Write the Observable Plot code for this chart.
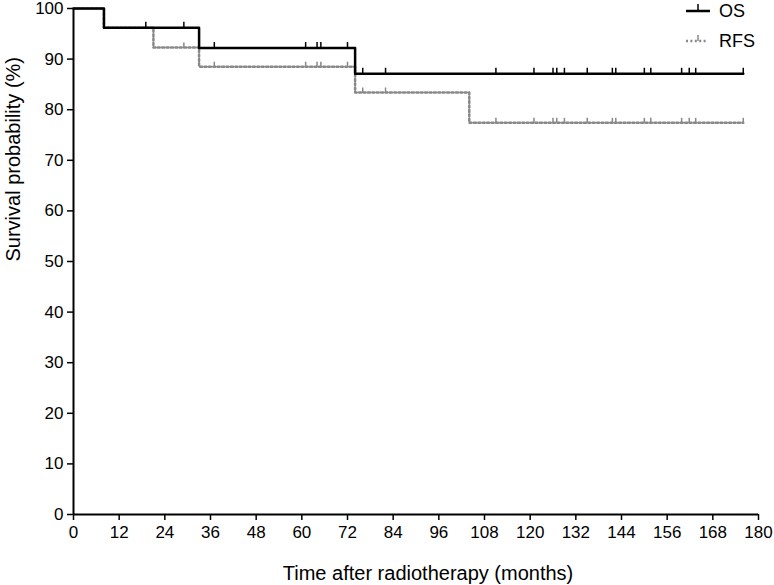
<!DOCTYPE html>
<html>
<head>
<meta charset="utf-8">
<script src="https://cdn.jsdelivr.net/npm/d3@7"></script>
<script src="https://cdn.jsdelivr.net/npm/@observablehq/plot@0.6"></script>
<style>
  html, body { margin: 0; padding: 0; background: #fff; }
  #wrap { position: relative; width: 774px; height: 585px; font-family: "Liberation Sans", Arial, sans-serif; }
  #legend { position: absolute; left: 684px; top: 0px; }
</style>
</head>
<body>
<div id="wrap"></div>
<script>
// Data
const osTime = [0, 8, 33, 74, 176];
const osSurv = [100, 96.2, 92.2, 87.1, 87.1];
const rfsTime = [0, 8, 21, 33, 74, 104, 176];
const rfsSurv = [100, 96.2, 92.3, 88.5, 83.4, 77.4, 77.4];
const censorTimes = [19, 29, 37, 61, 64, 65, 72, 76, 82, 111, 121, 126, 127, 129, 135, 141.6, 142.5, 150, 151.7, 159.8, 161.8, 163.5, 176];
const xTicks = d3.range(0, 181, 12);
const yTicks = d3.range(0, 101, 10);
const xLabel = "Time after radiotherapy (months)";
const yLabel = "Survival probability (%)";

const stepAt = (times, surv, t) => {
  let v = surv[0];
  for (let i = 0; i < times.length; i++) if (times[i] <= t) v = surv[i];
  return v;
};
const osLine = osTime.map((t, i) => ({t, s: osSurv[i]}));
const rfsLine = rfsTime.map((t, i) => ({t, s: rfsSurv[i]}));
const osCens = censorTimes.map(t => ({t, s: stepAt(osTime, osSurv, t)}));
const rfsCens = censorTimes.filter(t => t !== 19).map(t => ({t, s: stepAt(rfsTime, rfsSurv, t)}));

const upTick = (h) => ({ draw(ctx) { ctx.moveTo(0, 0); ctx.lineTo(0, -h); } });

const chart = Plot.plot({
  width: 774,
  height: 585,
  marginLeft: 73,
  marginRight: 16,
  marginTop: 8,
  marginBottom: 71,
  style: { fontFamily: "Liberation Sans, Arial, sans-serif", fontSize: "17px", color: "#000", background: "#fff", overflow: "visible" },
  x: { domain: [0, 180] },
  y: { domain: [0, 100] },
  marks: [
    Plot.axisX({ ticks: xTicks, tickSize: 6, tickPadding: 5, fontSize: 17, strokeWidth: 1.5, label: null }),
    Plot.axisY({ ticks: yTicks, tickSize: 6, tickPadding: 4, fontSize: 17, strokeWidth: 1.5, label: null }),
    Plot.text([xLabel], { frameAnchor: "bottom", dy: 65, dx: 12, fontSize: 20, lineAnchor: "bottom", text: d => d }),
    Plot.text([yLabel], { frameAnchor: "left", dx: -68, rotate: -90, fontSize: 20, lineAnchor: "top", text: d => d }),
    Plot.line(rfsLine, { x: "t", y: "s", curve: "step-after", stroke: "#888", strokeWidth: 2.5, strokeDasharray: "2,2.4" }),
    Plot.dot(rfsCens, { x: "t", y: "s", symbol: upTick(5), r: 3, stroke: "#888", strokeWidth: 1.5, fill: "none" }),
    Plot.line(osLine, { x: "t", y: "s", curve: "step-after", stroke: "#000", strokeWidth: 2.5 }),
    Plot.dot(osCens, { x: "t", y: "s", symbol: upTick(6), r: 3, stroke: "#000", strokeWidth: 1.5, fill: "none" }),
    Plot.ruleY([0], { stroke: "#000", strokeWidth: 2 }),
    Plot.ruleX([0], { stroke: "#000", strokeWidth: 2 })
  ]
});
const wrap = document.getElementById("wrap");
wrap.appendChild(chart);

const legend = document.createElement("div");
legend.id = "legend";
legend.innerHTML = `
<svg width="90" height="55" style="font-family: Liberation Sans, Arial, sans-serif; font-size:18px">
  <line x1="2" y1="11" x2="26" y2="11" stroke="#000" stroke-width="2.5"/>
  <line x1="14" y1="11" x2="14" y2="4" stroke="#000" stroke-width="1.5"/>
  <text x="35" y="17">OS</text>
  <line x1="2" y1="41" x2="24" y2="41" stroke="#888" stroke-width="2.5" stroke-dasharray="2,2.4"/>
  <line x1="14" y1="41" x2="14" y2="35" stroke="#888" stroke-width="1.5"/>
  <text x="35" y="47">RFS</text>
</svg>`;
wrap.appendChild(legend);
</script>
</body>
</html>
